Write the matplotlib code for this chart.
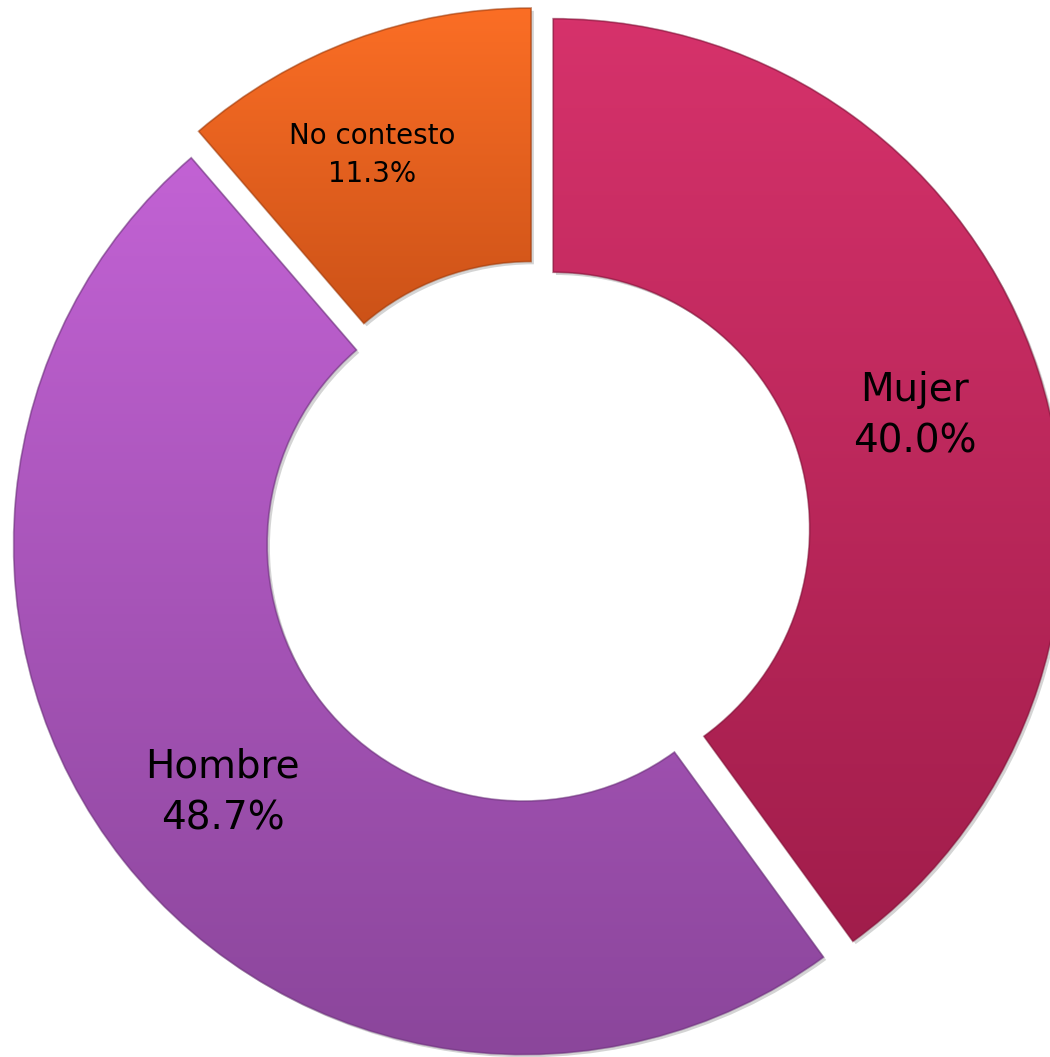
import matplotlib.pyplot as plt
import matplotlib.patheffects as pe
import numpy as np
from matplotlib.colors import LinearSegmentedColormap
from matplotlib.patches import PathPatch

# Datos de la encuesta
categorias = ['Mujer', 'Hombre', 'No contesto']
porcentajes = [40.0, 48.7, 11.3]

# Colores de cada sector (degradado de arriba hacia abajo)
color_arriba = ['#d6326b', '#c262d4', '#fb6e25']
color_abajo = ['#a11d4b', '#8b469b', '#cc5218']
color_borde = ['#7e1538', '#6a3478', '#9a3d10']
tam_fuente = [28, 28, 20]
# ajuste fino de la posicion de cada etiqueta (px)
ajuste_etiqueta = [(-5, -6), (1, -9), (-25, 2)]

W, H = 1050, 1057
fig = plt.figure(figsize=(W / 100, H / 100), dpi=100)
ax = fig.add_axes([0, 0, 1, 1])

R = 510
cx, cy = 537, H - 534

etiquetas = [f'{c}\n{p:.1f}%' for c, p in zip(categorias, porcentajes)]
wedges, texts = ax.pie(porcentajes, labels=etiquetas, startangle=90, counterclock=False,
                       radius=R, center=(cx, cy), explode=[17] * 3,
                       labeldistance=0.755,
                       wedgeprops=dict(width=R * 0.497, linewidth=0))

# Relleno con degradado vertical recortado a cada sector
grad = np.linspace(0, 1, 256).reshape(-1, 1)
for i, w in enumerate(wedges):
    w.set_facecolor(color_arriba[i])
    w.set_path_effects([pe.SimplePatchShadow(offset=(2, -2), alpha=0.25, shadow_rgbFace='#555555'),
                        pe.Normal()])
    ext = w.get_path().get_extents()
    cmap = LinearSegmentedColormap.from_list(f'g{i}', [color_arriba[i], color_abajo[i]])
    im = ax.imshow(grad, cmap=cmap, aspect='auto', origin='upper',
                   extent=[ext.x0, ext.x1, ext.y0, ext.y1], zorder=2)
    im.set_clip_path(w)
    borde = PathPatch(w.get_path(), fill=False, edgecolor=color_borde[i],
                      linewidth=1.3, alpha=0.55, zorder=3)
    ax.add_patch(borde)

for i, t in enumerate(texts):
    x, y = t.get_position()
    t.set_position((x + ajuste_etiqueta[i][0], y + ajuste_etiqueta[i][1]))
    t.set_ha('center')
    t.set_va('center')
    t.set_multialignment('center')
    t.set_linespacing(1.45)
    t.set_fontsize(tam_fuente[i])
    t.set_fontfamily('DejaVu Sans')
    t.set_color('black')
    t.set_zorder(5)

ax.set_xlim(0, W)
ax.set_ylim(0, H)
ax.set_aspect('equal')
ax.axis('off')

plt.savefig('out.png', dpi=100)
